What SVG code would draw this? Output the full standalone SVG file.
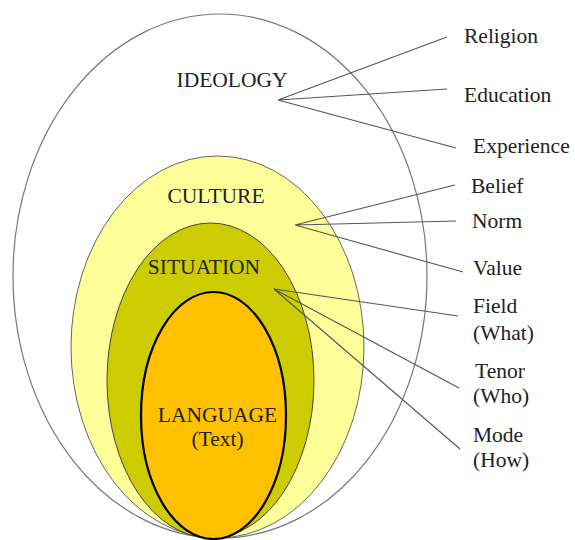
<svg xmlns="http://www.w3.org/2000/svg" width="575" height="540" viewBox="0 0 575 540">
<style>
text{font-size:21.5px;fill:#222}
.c{text-anchor:middle}
.ln{stroke:#555;stroke-width:1.1;fill:none}
</style>
<rect width="575" height="540" fill="#fff"/>
<g font-family="'Liberation Serif', 'DejaVu Serif', serif">
<g id="ideology">
<ellipse cx="220" cy="276" rx="207" ry="262" fill="#fff" stroke="#777" stroke-width="1.2"/>
<text class="c" x="232" y="87">IDEOLOGY</text>
</g>
<g id="culture">
<ellipse cx="217.5" cy="347" rx="146.5" ry="191" fill="#ffff99" stroke="#666" stroke-width="1"/>
<text class="c" x="216" y="203" font-size="21">CULTURE</text>
</g>
<g id="situation">
<ellipse cx="210.5" cy="380.5" rx="103.5" ry="157.5" fill="#cccc00" stroke="#444" stroke-width="1"/>
<text class="c" x="204" y="274" font-size="21">SITUATION</text>
</g>
<g id="language">
<ellipse cx="213.5" cy="415.5" rx="72.5" ry="123.5" fill="#ffc000" stroke="#000" stroke-width="2.2"/>
<text class="c" x="217.5" y="422">LANGUAGE</text>
<text class="c" x="217.5" y="446">(Text)</text>
</g>
<g id="connectors">
<path class="ln" d="M278 100L447 37M278 100L447 89M278 100L456 148"/>
<path class="ln" d="M295 225L455 185M295 225L456 221M295 225L463 272"/>
<path class="ln" d="M274 289L458 316M274 289L459 388M274 289L460 449"/>
</g>
<g id="labels">
<text x="464" y="43">Religion</text>
<text x="464" y="102">Education</text>
<text x="473" y="153">Experience</text>
<text x="471" y="193">Belief</text>
<text x="472" y="228">Norm</text>
<text x="473" y="275">Value</text>
<text x="473" y="313">Field</text>
<text x="473" y="340">(What)</text>
<text x="475" y="378">Tenor</text>
<text x="473" y="403">(Who)</text>
<text x="473" y="442">Mode</text>
<text x="473" y="467">(How)</text>
</g>
</g>
</svg>
